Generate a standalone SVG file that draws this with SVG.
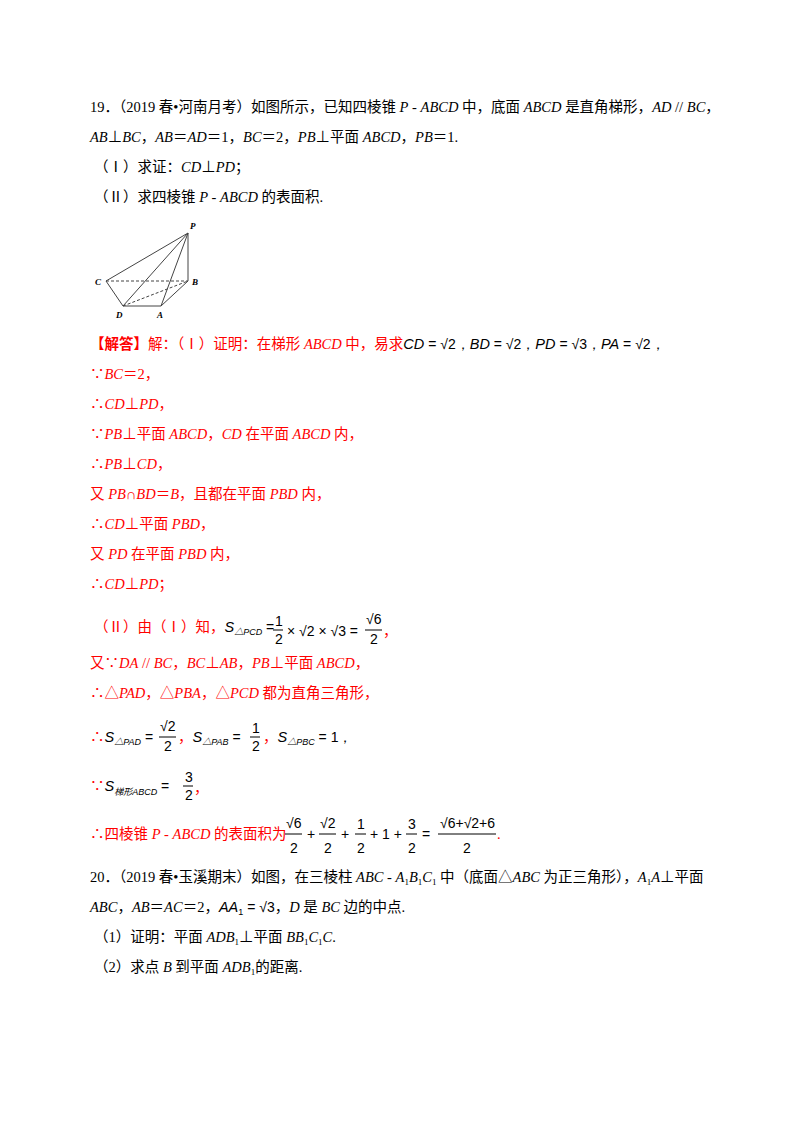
<svg xmlns="http://www.w3.org/2000/svg" width="800" height="1132" viewBox="0 0 800 1132">
<style>
text{font-family:"Liberation Serif","Noto Sans CJK SC",serif;font-size:14.5px;fill:#000}
.r{fill:#ff0000}
.i{font-style:italic}
.m{font-family:"Liberation Sans","Noto Sans CJK SC",sans-serif;font-style:italic;fill:#000}
.n{font-family:"Liberation Sans",sans-serif;fill:#000;font-size:14px}
.s{font-size:9px}
.fl{stroke:#000;stroke-width:1}
.fig{stroke:#444;stroke-width:1;fill:none}
.lb{font-size:9px;font-style:italic;font-weight:bold}
</style>
<rect width="800" height="1132" fill="#fff"/>
<g id="q19">
<text x="90" y="112">19．（2019 春•河南月考）如图所示，已知四棱锥 <tspan class="i">P</tspan> - <tspan class="i">ABCD</tspan> 中，底面 <tspan class="i">ABCD</tspan> 是直角梯形，<tspan class="i">AD</tspan> // <tspan class="i">BC</tspan>，</text>
<text x="90" y="142"><tspan class="i">AB</tspan>⊥<tspan class="i">BC</tspan>，<tspan class="i">AB</tspan>＝<tspan class="i">AD</tspan>＝1，<tspan class="i">BC</tspan>＝2，<tspan class="i">PB</tspan>⊥平面 <tspan class="i">ABCD</tspan>，<tspan class="i">PB</tspan>＝1.</text>
<text x="94" y="172">（Ⅰ）求证：<tspan class="i">CD</tspan>⊥<tspan class="i">PD</tspan>；</text>
<text x="94" y="202">（Ⅱ）求四棱锥 <tspan class="i">P</tspan> - <tspan class="i">ABCD</tspan> 的表面积.</text>
</g>
<g id="figure">
<g class="fig">
<path d="M188 233L106 281M188 233L123 306M188 233L161 306M188 233L188 281M106 281L123 306L161 306L188 281"/>
<path d="M106 281L188 281M123 306L188 281" stroke-dasharray="3,2"/>
</g>
<text class="lb" x="190" y="229">P</text>
<text class="lb" x="192" y="285">B</text>
<text class="lb" x="95" y="285">C</text>
<text class="lb" x="116" y="318">D</text>
<text class="lb" x="157" y="318">A</text>
</g>
<g id="solution">
<text class="r" x="90" y="349"><tspan font-weight="bold">【解答】</tspan>解：（Ⅰ）证明：在梯形 <tspan class="i">ABCD</tspan> 中，易求<tspan class="m">CD</tspan><tspan class="n"> = √2，</tspan><tspan class="m">BD</tspan><tspan class="n"> = √2，</tspan><tspan class="m">PD</tspan><tspan class="n"> = √3，</tspan><tspan class="m">PA</tspan><tspan class="n"> = √2，</tspan></text>
<text class="r" x="90" y="379">∵<tspan class="i">BC</tspan>＝2，</text>
<text class="r" x="90" y="409">∴<tspan class="i">CD</tspan>⊥<tspan class="i">PD</tspan>，</text>
<text class="r" x="90" y="439">∵<tspan class="i">PB</tspan>⊥平面 <tspan class="i">ABCD</tspan>，<tspan class="i">CD</tspan> 在平面 <tspan class="i">ABCD</tspan> 内，</text>
<text class="r" x="90" y="469">∴<tspan class="i">PB</tspan>⊥<tspan class="i">CD</tspan>，</text>
<text class="r" x="90" y="499">又 <tspan class="i">PB</tspan>∩<tspan class="i">BD</tspan>＝<tspan class="i">B</tspan>，且都在平面 <tspan class="i">PBD</tspan> 内，</text>
<text class="r" x="90" y="529">∴<tspan class="i">CD</tspan>⊥平面 <tspan class="i">PBD</tspan>，</text>
<text class="r" x="90" y="559">又 <tspan class="i">PD</tspan> 在平面 <tspan class="i">PBD</tspan> 内，</text>
<text class="r" x="90" y="589">∴<tspan class="i">CD</tspan>⊥<tspan class="i">PD</tspan>；</text>

<text class="r" x="94" y="632">（Ⅱ）由（Ⅰ）知，<tspan class="m">S</tspan><tspan class="m s" dy="3">△PCD</tspan><tspan class="n" dy="-3"> =</tspan></text>
<text class="n" x="275" y="626">1</text><line class="fl" x1="273" y1="630" x2="283" y2="630"/><text class="n" x="275" y="644">2</text>
<text class="n" x="287" y="636">× √2 × √3 =</text>
<text class="n" x="366" y="624">√6</text><line class="fl" x1="365" y1="630" x2="382" y2="630"/><text class="n" x="370" y="644">2</text>
<text class="r" x="383" y="636">，</text>

<text class="r" x="90" y="668">又∵<tspan class="i">DA</tspan> // <tspan class="i">BC</tspan>，<tspan class="i">BC</tspan>⊥<tspan class="i">AB</tspan>，<tspan class="i">PB</tspan>⊥平面 <tspan class="i">ABCD</tspan>，</text>
<text class="r" x="90" y="698">∴△<tspan class="i">PAD</tspan>，△<tspan class="i">PBA</tspan>，△<tspan class="i">PCD</tspan> 都为直角三角形，</text>

<text class="r" x="90" y="742">∴<tspan class="m">S</tspan><tspan class="m s" dy="3">△PAD</tspan><tspan class="n" dy="-3"> =</tspan></text>
<text class="n" x="160" y="731">√2</text><line class="fl" x1="159" y1="737" x2="176" y2="737"/><text class="n" x="164" y="751">2</text>
<text class="r" x="178" y="742">，<tspan class="m">S</tspan><tspan class="m s" dy="3">△PAB</tspan><tspan class="n" dy="-3"> =</tspan></text>
<text class="n" x="252" y="733">1</text><line class="fl" x1="250" y1="737" x2="260" y2="737"/><text class="n" x="252" y="751">2</text>
<text class="r" x="263" y="742">，<tspan class="m">S</tspan><tspan class="m s" dy="3">△PBC</tspan><tspan class="n" dy="-3"> = 1，</tspan></text>

<text class="r" x="90" y="791">∵<tspan class="m">S</tspan><tspan class="m s" dy="4">梯形ABCD</tspan><tspan class="n" dy="-4"> =</tspan></text>
<text class="n" x="185" y="782">3</text><line class="fl" x1="183" y1="786" x2="193" y2="786"/><text class="n" x="185" y="800">2</text>
<text class="r" x="194" y="793">，</text>

<text class="r" x="90" y="839">∴四棱锥 <tspan class="i">P</tspan> - <tspan class="i">ABCD</tspan> 的表面积为</text>
<text class="n" x="286" y="828">√6</text><line class="fl" x1="285" y1="834" x2="302" y2="834"/><text class="n" x="290" y="853">2</text>
<text class="n" x="307" y="839">+</text>
<text class="n" x="320" y="828">√2</text><line class="fl" x1="319" y1="834" x2="336" y2="834"/><text class="n" x="324" y="853">2</text>
<text class="n" x="341" y="839">+</text>
<text class="n" x="357" y="829">1</text><line class="fl" x1="355" y1="834" x2="366" y2="834"/><text class="n" x="357" y="853">2</text>
<text class="n" x="370" y="839">+ 1 +</text>
<text class="n" x="408" y="829">3</text><line class="fl" x1="406" y1="834" x2="417" y2="834"/><text class="n" x="408" y="853">2</text>
<text class="n" x="422" y="839">=</text>
<text class="n" x="440" y="828">√6+√2+6</text><line class="fl" x1="438" y1="834" x2="496" y2="834"/><text class="n" x="463" y="853">2</text>
<text class="r" x="497" y="839">.</text>
</g>
<g id="q20">
<text x="90" y="882">20．（2019 春•玉溪期末）如图，在三棱柱 <tspan class="i">ABC</tspan> - <tspan class="i">A</tspan><tspan class="s" dy="3">1</tspan><tspan class="i" dy="-3">B</tspan><tspan class="s" dy="3">1</tspan><tspan class="i" dy="-3">C</tspan><tspan class="s" dy="3">1</tspan><tspan dy="-3"> 中（底面△</tspan><tspan class="i">ABC</tspan> 为正三角形），<tspan class="i">A</tspan><tspan class="s" dy="3">1</tspan><tspan class="i" dy="-3">A</tspan>⊥平面</text>
<text x="90" y="912"><tspan class="i">ABC</tspan>，<tspan class="i">AB</tspan>＝<tspan class="i">AC</tspan>＝2，<tspan class="m">AA</tspan><tspan class="n s" dy="3">1</tspan><tspan class="n" dy="-3"> = √3</tspan>，<tspan class="i">D</tspan> 是 <tspan class="i">BC</tspan> 边的中点.</text>
<text x="94" y="942">（1）证明：平面 <tspan class="i">ADB</tspan><tspan class="s" dy="3">1</tspan><tspan dy="-3">⊥平面 </tspan><tspan class="i">BB</tspan><tspan class="s" dy="3">1</tspan><tspan class="i" dy="-3">C</tspan><tspan class="s" dy="3">1</tspan><tspan class="i" dy="-3">C</tspan>.</text>
<text x="94" y="972">（2）求点 <tspan class="i">B</tspan> 到平面 <tspan class="i">ADB</tspan><tspan class="s" dy="3">1</tspan><tspan dy="-3">的距离.</tspan></text>
</g>
</svg>
